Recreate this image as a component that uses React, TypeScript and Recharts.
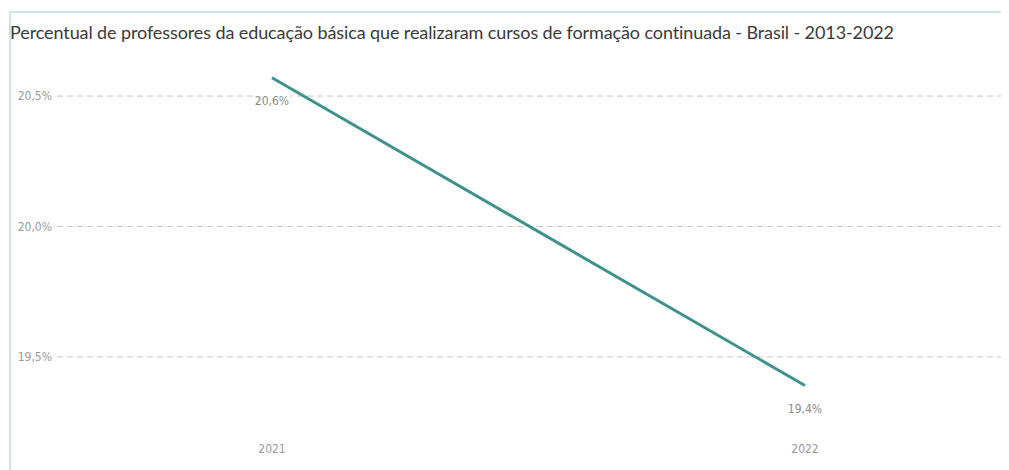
import { LineChart, Line, XAxis, YAxis, CartesianGrid } from 'recharts'

const years = ['2021', '2022']
const pctValues = [20.57, 19.39]
const yTicks = [19.5, 20.0, 20.5]

const TITLE = 'Percentual de professores da educação básica que realizaram cursos de formação continuada - Brasil - 2013-2022'

const data = years.map((year, i) => ({ year, pct: pctValues[i] }))

const fmt = (v: number) => `${v.toFixed(1).replace('.', ',')}%`

const tickFont = { fontFamily: '"DejaVu Sans Condensed", "DejaVu Sans", sans-serif', fontSize: 12, fill: '#9a9a9a' }

// value label sits under the point with a white backing so the gridline breaks around it
function PointLabel(props: { x?: number; y?: number; value?: number }) {
  const { x = 0, y = 0, value = 0 } = props
  const text = fmt(value)
  return (
    <g>
      <rect x={x - 18} y={y + 15} width={36} height={15} fill="#fff" />
      <text x={x} y={y + 27} textAnchor="middle" {...tickFont} fill="#8a8a8a">
        {text}
      </text>
    </g>
  )
}

export default function App() {
  return (
    <div style={{ position: 'relative', margin: '-8px 0 0 -8px', width: 1009, height: 470, background: '#fff', overflow: 'hidden' }}>
      {/* card frame */}
      <div
        style={{
          position: 'absolute', left: 9, top: 11, width: 996, height: 470,
          borderLeft: '2px solid #cfe6e3', borderTop: '2px solid #cfe6e3', borderRight: '1px solid #e3efee',
        }}
      />
      <div
        style={{
          position: 'absolute', left: 10, top: 21, whiteSpace: 'nowrap',
          fontFamily: 'Lato, sans-serif', fontSize: 18, letterSpacing: -0.1, color: '#3a3a3a',
        }}
      >
        {TITLE}
      </div>
      <div style={{ position: 'absolute', left: 0, top: 0 }}>
        <LineChart width={1009} height={470} data={data} margin={{ top: 70, right: 4, bottom: 1, left: 0 }}>
          <CartesianGrid vertical={false} horizontalValues={yTicks} stroke="#c4c4c4" strokeDasharray="6 4" />
          <XAxis
            dataKey="year"
            axisLine={false}
            tickLine={false}
            tickSize={0}
            tickMargin={35}
            height={60}
            padding={{ left: 215, right: 200 }}
            tick={tickFont}
          />
          <YAxis
            domain={[19.3, 20.6]}
            ticks={yTicks}
            axisLine={false}
            tickLine={false}
            tickSize={0}
            tickMargin={5}
            width={57}
            tick={tickFont}
            tickFormatter={fmt}
          />
          <Line
            type="linear"
            dataKey="pct"
            stroke="#3f918b"
            strokeWidth={3}
            dot={false}
            activeDot={false}
            label={<PointLabel />}
            isAnimationActive={false}
          />
        </LineChart>
      </div>
    </div>
  )
}
